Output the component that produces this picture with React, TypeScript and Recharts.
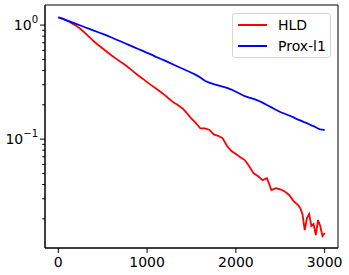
import { Line, LineChart, ReferenceArea, XAxis, YAxis } from "recharts";

const iterations = [
  0, 50, 100, 150, 200, 250, 300, 350, 400, 450, 500, 550, 600, 650, 700, 750, 800, 850, 900, 950,
  1000, 1050, 1100, 1150, 1200, 1250, 1300, 1350, 1400, 1450, 1500, 1550, 1600, 1650, 1700, 1750,
  1800, 1850, 1900, 1950, 2000, 2050, 2100, 2150, 2200, 2250, 2300, 2350, 2400, 2450, 2500, 2550,
  2600, 2650, 2700, 2725, 2750, 2775, 2800, 2825, 2850, 2875, 2900, 2925, 2950, 2975, 3000,
];

const hld = [
  1.169, 1.138, 1.096, 1.04, 0.989, 0.923, 0.855, 0.785, 0.721, 0.668, 0.624, 0.581, 0.542, 0.508,
  0.476, 0.448, 0.419, 0.389, 0.361, 0.339, 0.316, 0.296, 0.278, 0.26, 0.243, 0.225, 0.209, 0.198,
  0.186, 0.168, 0.151, 0.138, 0.124, 0.124, 0.121, 0.11, 0.107, 0.102, 0.0871, 0.0785, 0.0741,
  0.0695, 0.0655, 0.0579, 0.0501, 0.0473, 0.0437, 0.0455, 0.0357, 0.0372, 0.0363, 0.0347, 0.0324,
  0.0286, 0.0264, 0.0248, 0.022, 0.0159, 0.0203, 0.022, 0.0173, 0.018, 0.0144, 0.0195, 0.0173,
  0.0141, 0.015,
];

const proxL1 = [
  1.169, 1.135, 1.096, 1.062, 1.026, 0.991, 0.957, 0.925, 0.893, 0.865, 0.836, 0.807, 0.778, 0.748,
  0.721, 0.693, 0.667, 0.641, 0.617, 0.594, 0.571, 0.55, 0.527, 0.507, 0.488, 0.468, 0.449, 0.431,
  0.414, 0.398, 0.382, 0.366, 0.347, 0.325, 0.313, 0.304, 0.296, 0.288, 0.281, 0.272, 0.26, 0.249,
  0.238, 0.231, 0.225, 0.218, 0.209, 0.199, 0.19, 0.181, 0.173, 0.167, 0.161, 0.155, 0.148, 0.146,
  0.143, 0.14, 0.138, 0.135, 0.132, 0.13, 0.127, 0.124, 0.122, 0.121, 0.12,
];

const seriesNames = ["HLD", "Prox-l1"];
const seriesColors = ["#ff0000", "#0000ff"];

const xTicks = [0, 1000, 2000, 3000];
const majorY = [1, 0.1];
const minorY = [
  0.02, 0.03, 0.04, 0.05, 0.06, 0.07, 0.08, 0.09, 0.2, 0.3, 0.4, 0.5, 0.6, 0.7, 0.8, 0.9,
];
const yLabels: Record<string, string> = { "1": "0", "0.1": "\u22121" };

const data = iterations.map((it, i) => ({ it, hld: hld[i], prox: proxL1[i] }));

const xDomain: [number, number] = [-150, 3150];
const yDomain: [number, number] = [0.0111, 1.5];
const font = "'DejaVu Sans', sans-serif";

function YTick(props: any) {
  const { x, y, payload } = props;
  const major = majorY.includes(payload.value);
  return (
    <g>
      <line x1={x} x2={x - (major ? 5 : 2.8)} y1={y} y2={y} stroke="#000" strokeWidth={1} />
      {major && (
        <text x={38} y={y + 5} textAnchor="end" fontSize={14} fontFamily={font} fill="#000">
          10
          <tspan dy={-7} fontSize={10}>
            {yLabels[String(payload.value)]}
          </tspan>
        </text>
      )}
    </g>
  );
}

function LegendBox() {
  return (
    <div
      style={{
        position: "absolute",
        left: 232,
        top: 13,
        width: 99,
        height: 45,
        boxSizing: "border-box",
        border: "1px solid #d6d6d6",
        borderRadius: 3,
        background: "rgba(255,255,255,0.8)",
        fontFamily: font,
        fontSize: 14,
        color: "#000",
      }}
    >
      {seriesNames.map((name, i) => (
        <div key={name} style={{ position: "absolute", left: 0, top: 2 + i * 21, height: 18, width: "100%" }}>
          <div
            style={{
              position: "absolute",
              left: 5,
              top: 8,
              width: 29,
              height: 0,
              borderTop: `2px solid ${seriesColors[i]}`,
            }}
          />
          <span style={{ position: "absolute", left: 45, top: 0, lineHeight: "18px" }}>{name}</span>
        </div>
      ))}
    </div>
  );
}

export default function App() {
  return (
    <div style={{ position: "absolute", left: 0, top: 0, width: 349, height: 275, background: "#fff" }}>
      <LineChart width={349} height={275} data={data} margin={{ top: 5, right: 11, left: 0, bottom: 0 }}>
        <XAxis
          dataKey="it"
          type="number"
          domain={xDomain}
          ticks={xTicks}
          allowDataOverflow
          height={27}
          tickSize={5}
          tickMargin={4}
          stroke="#000"
          tick={{ fill: "#000", fontSize: 14, fontFamily: font }}
        />
        <YAxis
          scale="log"
          domain={yDomain}
          allowDataOverflow
          ticks={[...minorY, ...majorY]}
          interval={0}
          width={45}
          tickSize={0}
          tickMargin={0}
          tickLine={false}
          stroke="#000"
          tick={<YTick />}
        />
        <ReferenceArea
          x1={xDomain[0]}
          x2={xDomain[1]}
          y1={yDomain[0]}
          y2={yDomain[1]}
          fill="none"
          stroke="#000"
          strokeWidth={1}
          ifOverflow="visible"
        />
        <Line
          dataKey="hld"
          name={seriesNames[0]}
          stroke={seriesColors[0]}
          strokeWidth={1.8}
          dot={false}
          isAnimationActive={false}
        />
        <Line
          dataKey="prox"
          name={seriesNames[1]}
          stroke={seriesColors[1]}
          strokeWidth={1.8}
          dot={false}
          isAnimationActive={false}
        />
      </LineChart>
      <LegendBox />
    </div>
  );
}
